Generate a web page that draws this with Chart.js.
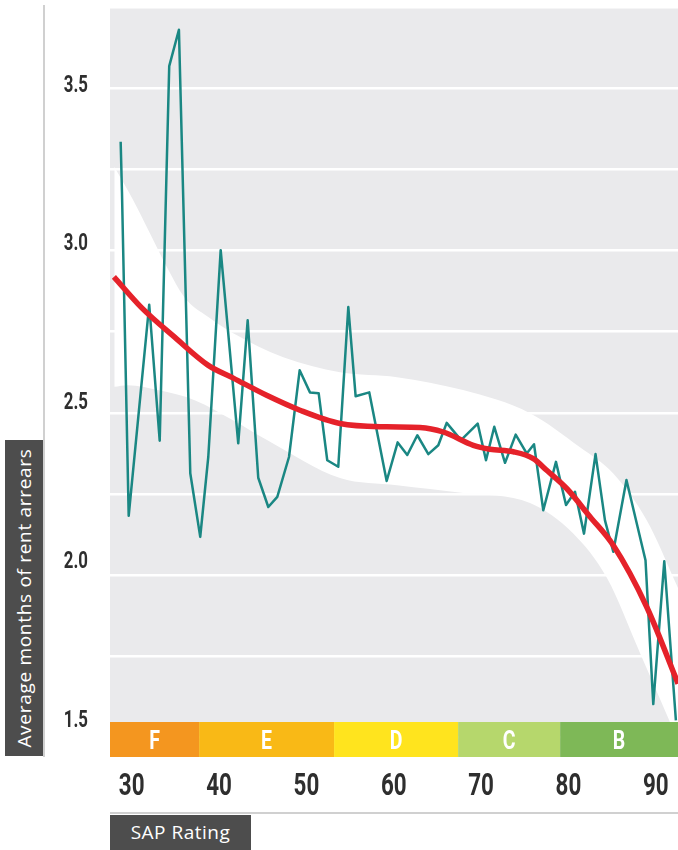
<!DOCTYPE html>
<html lang="en">
<head>
<meta charset="UTF-8">
<title>Rent arrears by SAP rating</title>
<script src="https://cdn.jsdelivr.net/npm/chart.js@4.4.0/dist/chart.umd.min.js"></script>
<style>
  body { margin: 0; background: #fff; }
  #wrap { position: relative; width: 678px; height: 850px; }
  #chart { position: absolute; left: 0; top: 0; }
  .vline { position: absolute; left: 43px; top: 5px; width: 2px; height: 752px; background: #d0d0d0; }
  .hline { position: absolute; left: 110px; top: 812px; width: 568px; height: 2px; background: #d0d0d0; }
  .ytitle { position: absolute; left: 5px; top: 440px; width: 38px; height: 316px; background: #4d4d4d; }
  .ytitle span { position: absolute; left: 50%; top: 50%; transform: translate(-50%, -50%) rotate(-90deg);
    white-space: nowrap; color: #fff; font: 19px 'Open Sans', sans-serif; letter-spacing: 0.7px; }
  .xtitle { position: absolute; left: 110px; top: 815px; width: 141px; height: 35px; background: #4d4d4d;
    color: #fff; font: 19px 'Open Sans', sans-serif; letter-spacing: 0.5px; text-align: center; line-height: 35px; }
</style>
</head>
<body>
<div id="wrap">
  <canvas id="chart" width="678" height="850"></canvas>
  <div class="vline"></div>
  <div class="ytitle"><span>Average months of rent arrears</span></div>
  <div class="hline"></div>
  <div class="xtitle">SAP Rating</div>
</div>

<script>
// average months of arrears, by SAP rating
const sapX = [28.74, 28.89, 29.66, 32.01, 33.21, 34.30, 35.41, 36.71, 37.85, 38.77,
  40.19, 42.20, 43.28, 44.49, 45.64, 46.67, 48.01, 49.23, 50.41, 51.41,
  52.39, 53.65, 54.80, 55.64, 57.20, 59.19, 60.45, 61.55, 62.70, 63.96,
  65.10, 66.06, 67.70, 69.61, 70.56, 71.51, 72.74, 73.96, 75.22, 76.06,
  77.12, 78.57, 79.72, 80.75, 81.78, 83.10, 84.18, 85.13, 86.64, 88.82,
  89.71, 90.97, 92.30];
const arrears = [3.335, 3.181, 2.183, 2.833, 2.414, 3.568, 3.680, 2.314, 2.118, 2.364,
  3.001, 2.406, 2.785, 2.300, 2.210, 2.241, 2.364, 2.631, 2.563, 2.560,
  2.354, 2.334, 2.826, 2.551, 2.563, 2.290, 2.409, 2.370, 2.431, 2.373,
  2.400, 2.469, 2.416, 2.467, 2.354, 2.457, 2.346, 2.433, 2.375, 2.403,
  2.200, 2.349, 2.216, 2.257, 2.128, 2.373, 2.169, 2.072, 2.293, 2.046,
  1.603, 2.043, 1.553];

// smoothed trend
const trendX = [27.97, 31.10, 34.92, 38.73, 41.63, 45.45, 49.27, 53.85, 59.19, 63.00,
  65.67, 69.11, 71.02, 73.69, 75.98, 77.51, 79.80, 82.47, 85.13, 88.96, 92.55];
const trendY = [2.919, 2.825, 2.733, 2.647, 2.607, 2.554, 2.508, 2.467, 2.457, 2.455,
  2.441, 2.400, 2.388, 2.380, 2.359, 2.323, 2.267, 2.180, 2.092, 1.902, 1.666];

// confidence band
const upperX = [28.01, 30.18, 32.09, 34.01, 36.10, 38.73, 41.63, 47.36, 53.85, 60.37,
  67.93, 75.60, 81.32, 85.13, 88.96, 92.55];
const upperY = [3.258, 3.155, 3.053, 2.950, 2.854, 2.796, 2.745, 2.671, 2.625, 2.610,
  2.570, 2.499, 2.394, 2.313, 2.169, 1.960];
const lowerX = [27.97, 29.58, 33.01, 37.21, 41.60, 45.49, 53.85, 60.37, 67.93, 75.60,
  80.52, 84.41, 88.19, 91.63, 92.55];
const lowerY = [2.580, 2.585, 2.570, 2.539, 2.477, 2.416, 2.299, 2.277, 2.253, 2.222,
  2.129, 1.991, 1.760, 1.547, 1.490];

// EPC bands along the x axis
const bandLabels = ['F', 'E', 'D', 'C', 'B'];
const bandFrom = [27.52, 37.72, 53.17, 67.37, 79.05];
const bandTo = [37.72, 53.17, 67.37, 79.05, 92.54];

const xTicks = [30, 40, 50, 60, 70, 80, 90];
const yTicks = [1.5, 2.0, 2.5, 3.0, 3.5];
const yGrid = [1.5, 1.75, 2.0, 2.25, 2.5, 2.75, 3.0, 3.25, 3.5, 3.75];

const bandColors = ['#f4961f', '#f9b916', '#ffe41e', '#b6d76c', '#7eb857'];

const pts = (xs, ys) => xs.map((x, i) => ({ x: x, y: ys[i] }));

// no condensed face is installed, so squeeze a bold face horizontally
function narrowText(ctx, text, x, y, size, align, squeeze) {
  ctx.save();
  ctx.translate(x, y);
  ctx.scale(squeeze, 1);
  ctx.font = 'bold ' + size + 'px Roboto, sans-serif';
  ctx.textAlign = align;
  ctx.textBaseline = 'alphabetic';
  ctx.fillText(text, 0, 0);
  ctx.restore();
}

const plotBg = {
  id: 'plotBg',
  beforeDraw(chart) {
    const a = chart.chartArea, ctx = chart.ctx;
    ctx.save();
    ctx.fillStyle = '#eaeaec';
    ctx.fillRect(a.left, a.top, a.right - a.left, a.bottom - a.top);
    ctx.restore();
  }
};

const ratingBands = {
  id: 'ratingBands',
  afterDatasetsDraw(chart) {
    const a = chart.chartArea, ctx = chart.ctx, xs = chart.scales.x;
    const h = 35, top = a.bottom - h;
    ctx.save();
    bandLabels.forEach((lab, i) => {
      const x0 = xs.getPixelForValue(bandFrom[i]);
      const x1 = xs.getPixelForValue(bandTo[i]);
      ctx.fillStyle = bandColors[i];
      ctx.fillRect(x0, top, x1 - x0, h);
      ctx.fillStyle = '#fff';
      narrowText(ctx, lab, (x0 + x1) / 2, top + h / 2 + 9, 25, 'center', 0.78);
    });
    ctx.restore();
  }
};

const tickText = {
  id: 'tickText',
  afterDraw(chart) {
    const ctx = chart.ctx, xs = chart.scales.x, ys = chart.scales.y2;
    ctx.save();
    ctx.fillStyle = '#2e2e2e';
    xs.ticks.forEach(t => {
      narrowText(ctx, String(t.value), xs.getPixelForValue(t.value), xs.top + 37.5, 32, 'center', 0.7);
    });
    ys.ticks.forEach(t => {
      narrowText(ctx, t.value.toFixed(1), ys.right - 22, ys.getPixelForValue(t.value) + 8.5, 24, 'right', 0.7);
    });
    ctx.restore();
  }
};

new Chart(document.getElementById('chart'), {
  type: 'line',
  data: {
    datasets: [
      { data: pts(trendX, trendY), borderColor: '#e5222a', borderWidth: 5.5,
        pointRadius: 0, cubicInterpolationMode: 'monotone', fill: false },
      { data: pts(sapX, arrears), borderColor: '#1a8783', borderWidth: 2.5,
        borderJoinStyle: 'round', pointRadius: 0, tension: 0, fill: false },
      { data: pts(upperX, upperY), borderColor: 'rgba(0,0,0,0)', borderWidth: 0,
        pointRadius: 0, cubicInterpolationMode: 'monotone', fill: '+1', backgroundColor: '#ffffff' },
      { data: pts(lowerX, lowerY), borderColor: 'rgba(0,0,0,0)', borderWidth: 0,
        pointRadius: 0, cubicInterpolationMode: 'monotone', fill: false }
    ]
  },
  options: {
    responsive: false,
    animation: false,
    devicePixelRatio: 1,
    layout: { padding: { top: 7, left: 0, right: 0, bottom: 0 } },
    plugins: { legend: { display: false }, tooltip: { enabled: false } },
    scales: {
      x: {
        type: 'linear', position: 'bottom', min: 27.52, max: 92.54,
        grid: { display: false }, border: { display: false },
        ticks: { display: false },
        afterBuildTicks: s => { s.ticks = xTicks.map(v => ({ value: v })); },
        afterFit: s => { s.height = 93; s.paddingLeft = 0; s.paddingRight = 0; }
      },
      y: {
        type: 'linear', position: 'left', weight: 0, min: 1.44, max: 3.75,
        grid: { color: '#ffffff', lineWidth: 2.5, drawTicks: false },
        border: { display: false },
        ticks: { display: false },
        afterBuildTicks: s => { s.ticks = yGrid.map(v => ({ value: v })); },
        afterFit: s => { s.width = 0; s.paddingTop = 0; s.paddingBottom = 0; }
      },
      y2: {
        type: 'linear', position: 'left', weight: 1, min: 1.3772, max: 3.7394,
        grid: { display: false }, border: { display: false },
        ticks: { display: false },
        afterBuildTicks: s => { s.ticks = yTicks.map(v => ({ value: v })); },
        afterFit: s => { s.width = 110; s.paddingTop = 0; s.paddingBottom = 0; }
      }
    }
  },
  plugins: [plotBg, ratingBands, tickText]
});
</script>
</body>
</html>
